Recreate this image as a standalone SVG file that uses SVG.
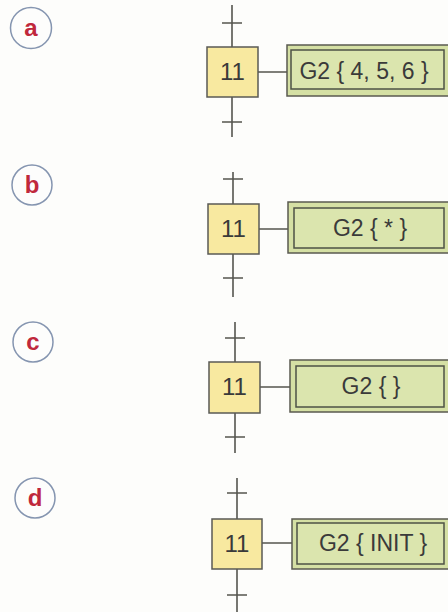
<svg xmlns="http://www.w3.org/2000/svg" width="448" height="612" viewBox="0 0 448 612">
<style>
.bg{fill:#fdfdfb}
.lbl circle{fill:#fdfdfc;stroke:#8595b0;stroke-width:1.5}
.lbl text{font-family:"Liberation Sans",Arial,sans-serif;font-weight:bold;font-size:24px;fill:#c0283c;text-anchor:middle}
.step rect{fill:#f8e9a0;stroke:#5a5a55;stroke-width:1.5}
.act .o{fill:#d5e0a4;stroke:#5a5a50;stroke-width:1.5}
.act .i{fill:#dbe5ae;stroke:#4e5245;stroke-width:1.5}
.t{font-family:"Liberation Sans",Arial,sans-serif;font-size:23px;fill:#3a3a3a;text-anchor:middle}
.step text{font-size:24px}
.ln{stroke:#55554f;stroke-width:1.6;fill:none}
</style>
<rect class="bg" x="0" y="0" width="448" height="612"/>
<g id="connectors">
<path class="ln" d="M232 5V47M222 23H242M232 97V137M222 122H242M258 72H287"/>
<path class="ln" d="M233 172V204M223 179H243M233 254V297M223 278H243M259 229H288"/>
<path class="ln" d="M235 322V362M225 338H245M235 413V453M225 437H245M260 387H290"/>
<path class="ln" d="M237 478V519M227 493H247M237 569V612M227 595H247M262 543H292"/>
</g>
<g id="label-a" class="lbl"><circle cx="31" cy="28" r="20.5"/><text x="31" y="36">a</text></g>
<g id="label-b" class="lbl"><circle cx="32" cy="185" r="20"/><text x="32" y="193">b</text></g>
<g id="label-c" class="lbl"><circle cx="33" cy="342" r="20"/><text x="33" y="350">c</text></g>
<g id="label-d" class="lbl"><circle cx="35" cy="498" r="20"/><text x="35" y="506">d</text></g>
<g id="step-a" class="step"><rect x="207" y="47" width="51" height="50"/><text class="t" x="232.5" y="80">11</text></g>
<g id="step-b" class="step"><rect x="208" y="204" width="51" height="50"/><text class="t" x="233.5" y="237">11</text></g>
<g id="step-c" class="step"><rect x="209" y="362" width="51" height="51"/><text class="t" x="234.5" y="395">11</text></g>
<g id="step-d" class="step"><rect x="212" y="519" width="50" height="50"/><text class="t" x="237" y="552">11</text></g>
<g id="action-a" class="act"><rect class="o" x="287" y="45" width="166" height="51"/><rect class="i" x="291" y="50" width="153" height="39"/><text class="t" x="364" y="78.5">G2 { 4, 5, 6 }</text></g>
<g id="action-b" class="act"><rect class="o" x="288" y="202" width="166" height="51"/><rect class="i" x="294" y="208" width="150" height="40"/><text class="t" x="370" y="236">G2 { * }</text></g>
<g id="action-c" class="act"><rect class="o" x="290" y="360" width="164" height="52"/><rect class="i" x="296" y="366" width="148" height="41"/><text class="t" x="371" y="394">G2 {  }</text></g>
<g id="action-d" class="act"><rect class="o" x="292" y="519" width="162" height="50"/><rect class="i" x="297" y="523" width="147" height="41"/><text class="t" x="373" y="551">G2 { INIT }</text></g>
</svg>
